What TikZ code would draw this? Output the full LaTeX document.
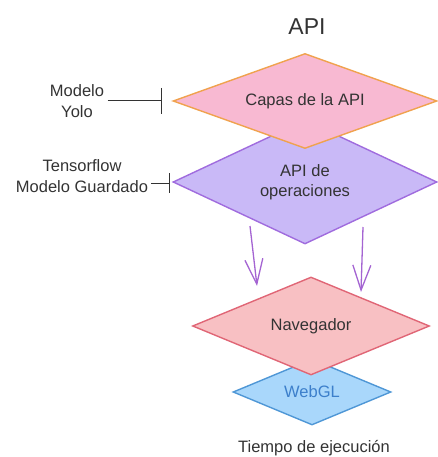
\documentclass[tikz,border=0pt]{standalone}
\usepackage{fontspec}
\setmainfont{Liberation Sans}
\usetikzlibrary{shapes.geometric,arrows.meta}

\definecolor{txt}{HTML}{333333}
\definecolor{capasfill}{HTML}{F8B9D2}
\definecolor{capasdraw}{HTML}{F0A24E}
\definecolor{opsfill}{HTML}{C9B9F7}
\definecolor{opsdraw}{HTML}{A06CDE}
\definecolor{navfill}{HTML}{F8C0C3}
\definecolor{navdraw}{HTML}{E06676}
\definecolor{glfill}{HTML}{A9D7FB}
\definecolor{gldraw}{HTML}{4F97D6}
\definecolor{gltext}{HTML}{3C7FCB}
\definecolor{flow}{HTML}{A464D2}

\tikzset{
  layer/.style={diamond, inner sep=0pt, line width=1.4pt, align=center,
    text=txt, font=\fontsize{16.5}{20.5}\selectfont},
  label/.style={text=txt, align=center, font=\fontsize{16.5}{20.5}\selectfont},
  feeds/.style={draw=txt, line width=1pt},
  flowarrow/.style={draw=flow, line width=1.3pt,
    -{Straight Barb[length=25pt,width=18pt,line width=1.3pt]}},
}

\begin{document}
\begin{tikzpicture}[x=1pt,y=-1pt]
  \useasboundingbox (0,0) rectangle (438,457);

  \node[label, font=\fontsize{23}{27}\selectfont] (title) at (307,27) {API};

  % lower layers first so the upper ones overlap them
  \node[layer, fill=opsfill, draw=opsdraw, aspect=2.13,
    minimum width=264pt, minimum height=124pt]
    (apiops) at (305,182) {API de\\operaciones};
  \node[layer, fill=capasfill, draw=capasdraw, aspect=2.78,
    minimum width=264pt, minimum height=95pt]
    (capas) at (305,101) {Capas de la API};

  \node[layer, fill=glfill, draw=gldraw, text=gltext, aspect=2.39,
    minimum width=158pt, minimum height=66pt]
    (webgl) at (312,392) {WebGL};
  \node[layer, fill=navfill, draw=navdraw, aspect=2.42,
    minimum width=237pt, minimum height=98pt]
    (nav) at (311,326) {Navegador};

  \node[label] (runtime) at (314,448) {Tiempo de ejecución};

  % model inputs with bar ends
  \node[label] (yolo) at (77,101) {Modelo\\Yolo};
  \coordinate (yolobar) at (162,101);
  \draw[feeds, -{Bar[width=26pt,line width=1pt]}] (yolo.east) -- (yolobar);

  \node[label] (tf) at (82,176) {Tensorflow\\Modelo Guardado};
  \coordinate (tfstart) at (151,183);
  \coordinate (tfbar) at (170,183);
  \draw[feeds, -{Bar[width=20pt,line width=1pt]}] (tfstart) -- (tfbar);

  % flow from the operations API down to the browser
  \coordinate (la) at (250,226);
  \coordinate (lb) at (257,286);
  \coordinate (ra) at (363,227);
  \coordinate (rb) at (361,292);
  \draw[flowarrow] (la) -- (lb);
  \draw[flowarrow] (ra) -- (rb);
\end{tikzpicture}
\end{document}
